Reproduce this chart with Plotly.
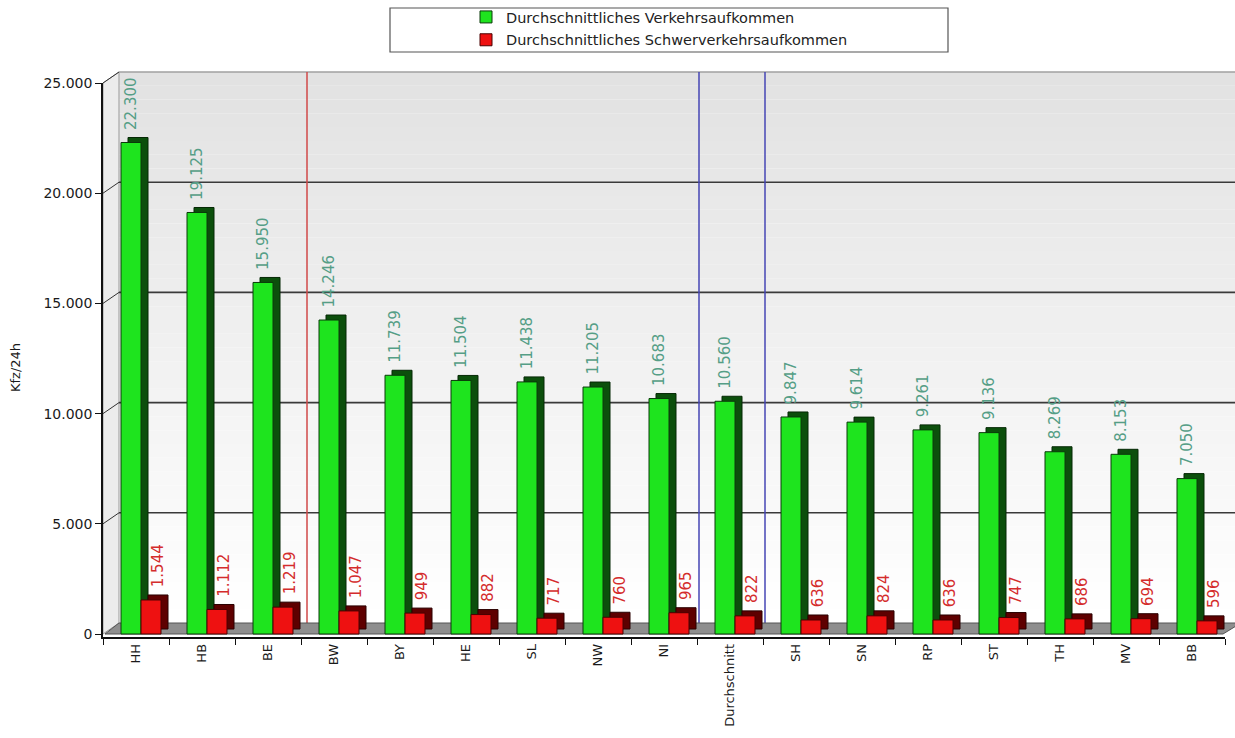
import plotly.graph_objects as go

# --- data -----------------------------------------------------------------
regions = ["HH", "HB", "BE", "BW", "BY", "HE", "SL", "NW", "NI", "Durchschnitt",
           "SH", "SN", "RP", "ST", "TH", "MV", "BB"]
traffic_total = [22300, 19125, 15950, 14246, 11739, 11504, 11438, 11205, 10683,
                 10560, 9847, 9614, 9261, 9136, 8269, 8153, 7050]
traffic_heavy = [1544, 1112, 1219, 1047, 949, 882, 717, 760, 965,
                 822, 636, 824, 636, 747, 686, 694, 596]
y_ticks = [0, 5000, 10000, 15000, 20000, 25000]
name_total = "Durchschnittliches Verkehrsaufkommen"
name_heavy = "Durchschnittliches Schwerverkehrsaufkommen"

# --- layout geometry ------------------------------------------------------
W, H = 1235, 738
M_L, M_R, M_T, M_B = 103, 10, 83, 101
Y_MIN, Y_MAX = -136, 25000
plot_w = W - M_L - M_R
plot_h = H - M_T - M_B
units_per_px = (Y_MAX - Y_MIN) / plot_h
cat_px = plot_w / len(regions)

WALL_X, WALL_Y = 16, 11      # offset of the back wall (pseudo 3D)
DEPTH_X, DEPTH_Y = 7, 5      # extrusion of each bar

FONT = "DejaVu Sans"
NBSP = "\u00a0"


def px_x(px):
    """figure pixel x -> paper x"""
    return (px - M_L) / plot_w


def px_y(px):
    """figure pixel y (from top) -> paper y"""
    return (H - M_B - px) / plot_h


def val_y(v, shift_px=0):
    """data value (+ upward pixel shift) -> paper y"""
    return (v - Y_MIN) / (Y_MAX - Y_MIN) + shift_px / plot_h


def cat_x(i, shift_px=0):
    """category boundary index (+ pixel shift) -> paper x"""
    return i / len(regions) + shift_px / plot_w


def cu(px):
    """pixels -> category units"""
    return px / cat_px


depth_val = DEPTH_Y * units_per_px

fig = go.Figure()

# green series: extruded side/top, then front face with value labels
fig.add_trace(go.Bar(
    x=regions, y=traffic_total, base=depth_val,
    offset=cu(-15 + DEPTH_X), width=cu(20),
    marker=dict(color="#0c4f0c", line=dict(color="#052805", width=1)),
    showlegend=False, hoverinfo="skip",
))
fig.add_trace(go.Bar(
    x=regions, y=traffic_total, name=name_total, legendgroup="g1",
    offset=cu(-15), width=cu(20),
    marker=dict(color="#1ee41e", line=dict(color="#0a3a0a", width=1)),
    texttemplate=NBSP * 2 + "%{y:,d}", textposition="outside", textangle=-90,
    textfont=dict(family=FONT, size=15, color="#559e86"),
    constraintext="none", cliponaxis=False,
))
# red series: labels sit on the extruded part
fig.add_trace(go.Bar(
    x=regions, y=traffic_heavy, base=depth_val,
    offset=cu(5 + DEPTH_X), width=cu(20),
    marker=dict(color="#5e0000", line=dict(color="#2a0000", width=1)),
    texttemplate=NBSP + "%{y:,d}", textposition="outside", textangle=-90,
    textfont=dict(family=FONT, size=15, color="#d42c2c"),
    constraintext="none", cliponaxis=False,
    showlegend=False, hoverinfo="skip",
))
fig.add_trace(go.Bar(
    x=regions, y=traffic_heavy, name=name_heavy, legendgroup="g2",
    offset=cu(5), width=cu(20),
    marker=dict(color="#ee1111", line=dict(color="#4a0000", width=1)),
))

shapes = []

# back wall with a soft vertical gradient (grey at the top, white at the floor)
steps = 40
top_c, bot_c = (226, 226, 226), (255, 255, 255)
for k in range(steps):
    t = k / (steps - 1)
    c = tuple(round(top_c[j] + (bot_c[j] - top_c[j]) * t) for j in range(3))
    v_top = Y_MAX * (1 - k / steps)
    v_bot = Y_MAX * (1 - (k + 1) / steps)
    shapes.append(dict(
        type="rect", xref="paper", yref="paper", layer="below",
        x0=cat_x(0, WALL_X), x1=px_x(W + 5),
        y0=val_y(v_bot, WALL_Y), y1=val_y(v_top, WALL_Y),
        fillcolor="rgb(%d,%d,%d)" % c, line=dict(width=0),
    ))

# left side wall
shapes.append(dict(
    type="path", xref="paper", yref="paper", layer="below",
    path="M %f,%f L %f,%f L %f,%f L %f,%f Z" % (
        cat_x(0), val_y(Y_MAX),
        cat_x(0, WALL_X), val_y(Y_MAX, WALL_Y),
        cat_x(0, WALL_X), val_y(0, WALL_Y),
        cat_x(0), val_y(0)),
    fillcolor="#ececec", line=dict(color="#9a9a9a", width=1),
))

# gridlines on the back wall and slanted tick connectors
for v in y_ticks:
    if v == 0:
        continue
    col = "#a0a0a0" if v == Y_MAX else "#3a3a3a"
    shapes.append(dict(
        type="line", xref="paper", yref="paper", layer="below",
        x0=cat_x(0, WALL_X), x1=px_x(W + 5),
        y0=val_y(v, WALL_Y), y1=val_y(v, WALL_Y),
        line=dict(color=col, width=1.6),
    ))
    shapes.append(dict(
        type="line", xref="paper", yref="paper", layer="below",
        x0=cat_x(0), x1=cat_x(0, WALL_X),
        y0=val_y(v), y1=val_y(v, WALL_Y),
        line=dict(color="#333333", width=1),
    ))

# group separators
for idx, col, sh in [(3, "#d04848", 6), (9, "#4646b4", 2), (10, "#4646b4", 2)]:
    shapes.append(dict(
        type="line", xref="paper", yref="paper", layer="below",
        x0=cat_x(idx, sh), x1=cat_x(idx, sh),
        y0=val_y(0, 4), y1=val_y(Y_MAX, WALL_Y),
        line=dict(color=col, width=1.5),
    ))

# floor
shapes.append(dict(
    type="path", xref="paper", yref="paper", layer="below",
    path="M %f,%f L %f,%f L %f,%f L %f,%f Z" % (
        cat_x(0, 2), val_y(0),
        cat_x(len(regions), -2), val_y(0),
        cat_x(len(regions), WALL_X), val_y(0, WALL_Y),
        cat_x(0, WALL_X), val_y(0, WALL_Y)),
    fillcolor="#8e8e8e", line=dict(color="#555555", width=1),
))

# legend frame
shapes.append(dict(
    type="rect", xref="paper", yref="paper", layer="above",
    x0=px_x(390), x1=px_x(948), y0=px_y(52), y1=px_y(8),
    line=dict(color="#555555", width=1.2), fillcolor="rgba(0,0,0,0)",
))

fig.update_layout(
    width=W, height=H,
    margin=dict(l=M_L, r=M_R, t=M_T, b=M_B, autoexpand=False),
    paper_bgcolor="white", plot_bgcolor="rgba(0,0,0,0)",
    barmode="overlay", separators=",.",
    font=dict(family=FONT, size=13, color="#1a1a1a"),
    shapes=shapes,
    showlegend=True,
    legend=dict(
        x=px_x(466), y=px_y(1), xanchor="left", yanchor="top",
        bgcolor="rgba(0,0,0,0)", borderwidth=0,
        font=dict(family=FONT, size=14.5, color="#222222"),
        tracegroupgap=1, itemwidth=30,
    ),
    annotations=[dict(
        text="Kfz/24h", xref="paper", yref="paper",
        x=px_x(15), y=px_y(368), xanchor="center", yanchor="middle",
        textangle=-90, showarrow=False,
        font=dict(family=FONT, size=13, color="#1a1a1a"),
    )],
)

fig.update_xaxes(
    type="category", categoryorder="array", categoryarray=regions,
    range=[-0.5, len(regions) - 0.5],
    showline=True, linecolor="#111111", linewidth=1.5,
    ticks="outside", tickson="boundaries", ticklen=6, tickcolor="#111111",
    tickangle=-90, tickfont=dict(family=FONT, size=13, color="#1a1a1a"),
    showgrid=False, zeroline=False, automargin=False,
)
fig.update_yaxes(
    range=[Y_MIN, Y_MAX], tickvals=y_ticks, tickformat=",d",
    showline=True, linecolor="#111111", linewidth=1.5,
    ticks="outside", ticklen=6, tickcolor="#111111",
    tickfont=dict(family=FONT, size=14, color="#1a1a1a"),
    showgrid=False, zeroline=False, automargin=False,
)

fig.write_html("out.html")
